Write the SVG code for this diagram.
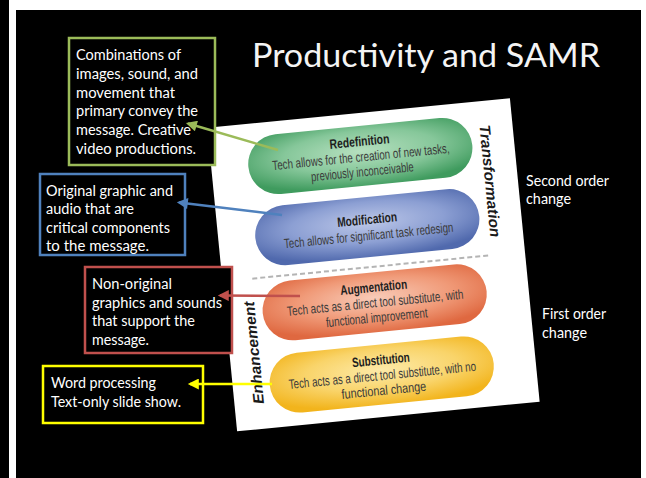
<svg xmlns="http://www.w3.org/2000/svg" width="646" height="478" viewBox="0 0 646 478">
  <style>
    .note { font-family: Lato, "Open Sans", "Liberation Sans", sans-serif; font-size: 14.5px; fill: #ffffff; }
    .side { font-family: Lato, "Open Sans", "Liberation Sans", sans-serif; font-size: 15px; fill: #ffffff; }
    .box { fill: #000000; stroke-width: 2.5; }
    .pill-title { font-family: "Liberation Sans Narrow", "Liberation Sans", Arial, sans-serif; font-size: 13.5px; font-weight: bold; fill: #1e1e1e; text-anchor: middle; }
    .pill-body { font-family: "Liberation Sans Narrow", "Liberation Sans", Arial, sans-serif; font-size: 13.5px; fill: #3a3a3a; text-anchor: middle; }
    .axis { font-family: "Liberation Sans", Arial, sans-serif; font-size: 15px; font-weight: bold; font-style: italic; fill: #1a1a1a; text-anchor: middle; }
    .conn { fill: none; stroke-width: 2.5; }
  </style>
  <defs>
    <radialGradient id="gGreen" cx="0.5" cy="0.42" r="0.62">
      <stop offset="0" stop-color="#b6e0bf"/>
      <stop offset="0.55" stop-color="#86c79a"/>
      <stop offset="1" stop-color="#3f9b5e"/>
    </radialGradient>
    <radialGradient id="gBlue" cx="0.5" cy="0.42" r="0.62">
      <stop offset="0" stop-color="#bcc7e8"/>
      <stop offset="0.55" stop-color="#8c9fd3"/>
      <stop offset="1" stop-color="#5069ad"/>
    </radialGradient>
    <radialGradient id="gOrange" cx="0.5" cy="0.42" r="0.62">
      <stop offset="0" stop-color="#f8cbb8"/>
      <stop offset="0.55" stop-color="#f09a78"/>
      <stop offset="1" stop-color="#df6840"/>
    </radialGradient>
    <radialGradient id="gYellow" cx="0.5" cy="0.42" r="0.62">
      <stop offset="0" stop-color="#fdeaa8"/>
      <stop offset="0.55" stop-color="#f9d46a"/>
      <stop offset="1" stop-color="#f2b41c"/>
    </radialGradient>
    <marker id="aGreen" viewBox="0 0 10 10" refX="8" refY="5" markerWidth="12" markerHeight="11" markerUnits="userSpaceOnUse" orient="auto">
      <path d="M0,0 L10,5 L0,10 z" fill="#9bbb59"/>
    </marker>
    <marker id="aBlue" viewBox="0 0 10 10" refX="8" refY="5" markerWidth="12" markerHeight="11" markerUnits="userSpaceOnUse" orient="auto">
      <path d="M0,0 L10,5 L0,10 z" fill="#4f81bd"/>
    </marker>
    <marker id="aRed" viewBox="0 0 10 10" refX="8" refY="5" markerWidth="12" markerHeight="11" markerUnits="userSpaceOnUse" orient="auto">
      <path d="M0,0 L10,5 L0,10 z" fill="#c0504d"/>
    </marker>
    <marker id="aYellow" viewBox="0 0 10 10" refX="8" refY="5" markerWidth="12" markerHeight="11" markerUnits="userSpaceOnUse" orient="auto">
      <path d="M0,0 L10,5 L0,10 z" fill="#ffff00"/>
    </marker>
  </defs>

  <!-- frame and slide background -->
  <rect x="0" y="0" width="646" height="478" fill="#ffffff"/>
  <rect x="0" y="0" width="9" height="478" fill="#000000"/>
  <rect x="16" y="10" width="625" height="468" fill="#000000"/>

  <!-- title -->
  <text id="title" x="252" y="67" font-family="Lato, 'Open Sans', 'Liberation Sans', sans-serif" font-size="33" fill="#f4f4f4" textLength="348" lengthAdjust="spacingAndGlyphs">Productivity and SAMR</text>

  <!-- SAMR model page, slightly rotated -->
  <g id="samr-page" transform="translate(373.5,264.75) rotate(-5.6)">
    <rect x="-152" y="-152.5" width="304" height="305" fill="#ffffff"/>

    <g id="redefinition">
      <rect x="-115" y="-139.5" width="225" height="60" rx="30" fill="url(#gGreen)"/>
      <text class="pill-title" x="-2" y="-119.5" textLength="60" lengthAdjust="spacingAndGlyphs">Redefinition</text>
      <text class="pill-body" x="-2" y="-104" textLength="178" lengthAdjust="spacingAndGlyphs">Tech allows for the creation of new tasks,</text>
      <text class="pill-body" x="-2" y="-89" textLength="103" lengthAdjust="spacingAndGlyphs">previously inconceivable</text>
    </g>

    <g id="modification">
      <rect x="-115" y="-68" width="225" height="60" rx="30" fill="url(#gBlue)"/>
      <text class="pill-title" x="-2" y="-41" textLength="60" lengthAdjust="spacingAndGlyphs">Modification</text>
      <text class="pill-body" x="-2" y="-25" textLength="170" lengthAdjust="spacingAndGlyphs">Tech allows for significant task redesign</text>
    </g>

    <line x1="-122" y1="2" x2="117" y2="2" stroke="#b4b4b4" stroke-width="2" stroke-dasharray="5 3"/>

    <g id="augmentation">
      <rect x="-115" y="7.5" width="225" height="60" rx="30" fill="url(#gOrange)"/>
      <text class="pill-title" x="-2" y="27" textLength="67" lengthAdjust="spacingAndGlyphs">Augmentation</text>
      <text class="pill-body" x="-2" y="42.5" textLength="177" lengthAdjust="spacingAndGlyphs">Tech acts as a direct tool substitute, with</text>
      <text class="pill-body" x="-2" y="57.5" textLength="102" lengthAdjust="spacingAndGlyphs">functional improvement</text>
    </g>

    <g id="substitution">
      <rect x="-115" y="80" width="225" height="60" rx="30" fill="url(#gYellow)"/>
      <text class="pill-title" x="-2" y="100" textLength="58" lengthAdjust="spacingAndGlyphs">Substitution</text>
      <text class="pill-body" x="-2" y="115.5" textLength="188" lengthAdjust="spacingAndGlyphs">Tech acts as a direct tool substitute, with no</text>
      <text class="pill-body" x="-2" y="130.5" textLength="85" lengthAdjust="spacingAndGlyphs">functional change</text>
    </g>

    <text class="axis" transform="translate(124,-72) rotate(90)" x="0" y="5" textLength="113" lengthAdjust="spacingAndGlyphs">Transformation</text>
    <text class="axis" transform="translate(-127.5,76) rotate(-90)" x="0" y="5" textLength="103" lengthAdjust="spacingAndGlyphs">Enhancement</text>
  </g>

  <!-- annotation boxes -->
  <g id="note-redefinition">
    <rect class="box" x="69" y="38" width="146" height="127" stroke="#9bbb59"/>
    <text class="note" x="76" y="60" textLength="105" lengthAdjust="spacingAndGlyphs">Combinations of</text>
    <text class="note" x="76" y="78.8" textLength="122" lengthAdjust="spacingAndGlyphs">images, sound, and</text>
    <text class="note" x="76" y="97.6" textLength="99" lengthAdjust="spacingAndGlyphs">movement that</text>
    <text class="note" x="76" y="116.4" textLength="122" lengthAdjust="spacingAndGlyphs">primary convey the</text>
    <text class="note" x="76" y="135.2" textLength="115" lengthAdjust="spacingAndGlyphs">message. Creative</text>
    <text class="note" x="76" y="154" textLength="120" lengthAdjust="spacingAndGlyphs">video productions.</text>
  </g>

  <g id="note-modification">
    <rect class="box" x="40" y="174" width="145" height="81" stroke="#4f81bd"/>
    <text class="note" x="46" y="196" textLength="127" lengthAdjust="spacingAndGlyphs">Original graphic and</text>
    <text class="note" x="46" y="214.3" textLength="88" lengthAdjust="spacingAndGlyphs">audio that are</text>
    <text class="note" x="46" y="232.6" textLength="124" lengthAdjust="spacingAndGlyphs">critical components</text>
    <text class="note" x="46" y="251" textLength="103" lengthAdjust="spacingAndGlyphs">to the message.</text>
  </g>

  <g id="note-augmentation">
    <rect class="box" x="85" y="267" width="147" height="86" stroke="#c0504d"/>
    <text class="note" x="92" y="289" textLength="80" lengthAdjust="spacingAndGlyphs">Non-original</text>
    <text class="note" x="92" y="307.7" textLength="130" lengthAdjust="spacingAndGlyphs">graphics and sounds</text>
    <text class="note" x="92" y="326.4" textLength="103" lengthAdjust="spacingAndGlyphs">that support the</text>
    <text class="note" x="92" y="345" textLength="57" lengthAdjust="spacingAndGlyphs">message.</text>
  </g>

  <g id="note-substitution">
    <rect class="box" x="43" y="366" width="160" height="57" stroke="#ffff00"/>
    <text class="note" x="51" y="388" textLength="105" lengthAdjust="spacingAndGlyphs">Word processing</text>
    <text class="note" x="51" y="407" textLength="130" lengthAdjust="spacingAndGlyphs">Text-only slide show.</text>
  </g>

  <!-- order-of-change labels -->
  <g id="second-order">
    <text class="side" x="526" y="186" textLength="83" lengthAdjust="spacingAndGlyphs">Second order</text>
    <text class="side" x="526" y="204" textLength="45" lengthAdjust="spacingAndGlyphs">change</text>
  </g>
  <g id="first-order">
    <text class="side" x="542" y="319" textLength="64" lengthAdjust="spacingAndGlyphs">First order</text>
    <text class="side" x="542" y="338" textLength="45" lengthAdjust="spacingAndGlyphs">change</text>
  </g>

  <!-- connectors from each SAMR level to its note -->
  <g id="connectors">
    <line class="conn" x1="278" y1="150" x2="188" y2="123.5" stroke="#9bbb59" marker-end="url(#aGreen)"/>
    <line class="conn" x1="282" y1="215" x2="179" y2="202.5" stroke="#4f81bd" marker-end="url(#aBlue)"/>
    <line class="conn" x1="300" y1="296" x2="220" y2="295.5" stroke="#c0504d" marker-end="url(#aRed)"/>
    <line class="conn" x1="272" y1="384" x2="190" y2="384" stroke="#ffff00" marker-end="url(#aYellow)"/>
  </g>
</svg>
